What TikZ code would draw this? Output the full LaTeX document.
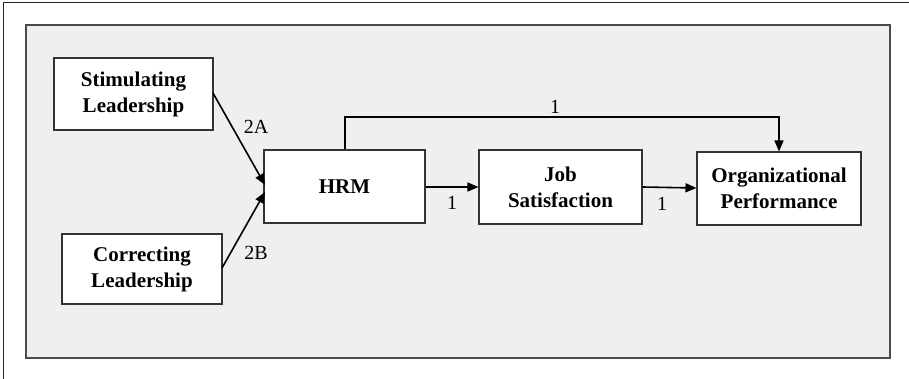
\documentclass[tikz,border=0pt]{standalone}
\usepackage{fontspec}
\setmainfont{Liberation Serif}
\usetikzlibrary{arrows.meta}
\definecolor{panel}{HTML}{EEF0EF}
\definecolor{panelline}{HTML}{4A4A4A}
\begin{document}
\begin{tikzpicture}[x=1pt,y=-1pt,
  box/.style={draw=black!80,line width=1.1pt,fill=white,font=\fontsize{21}{26}\selectfont\bfseries,align=center,inner sep=0pt},
  conn/.style={line width=1.6pt,-{Triangle[length=11pt,width=9pt]}},
  lab/.style={font=\fontsize{20}{22}\selectfont,inner sep=0pt}]
\useasboundingbox (0,0) rectangle (909,379);
\draw[line width=1pt,black!85] (3,379) -- (3,3) -- (909,3);
\draw[panelline,line width=1.1pt,fill=panel] (26,25) rectangle (890,358);
\node[box,minimum width=159pt,minimum height=72pt] (stim) at (133.5,94) {Stimulating\\Leadership};
\node[box,minimum width=160pt,minimum height=70pt] (corr) at (142,269) {Correcting\\Leadership};
\node[box,minimum width=161pt,minimum height=73pt] (hrm) at (344.5,186.5) {HRM};
\node[box,minimum width=163pt,minimum height=74pt] (job) at (560.5,187) {Job\\Satisfaction};
\node[box,minimum width=164pt,minimum height=73pt] (org) at (779,188.5) {Organizational\\Performance};
\coordinate (sa) at (213,93);
\coordinate (ha) at (265,185);
\coordinate (ca) at (222,268);
\coordinate (hb) at (265,192);
\draw[conn] (sa) -- (ha);
\draw[conn] (ca) -- (hb);
\draw[conn] (hrm.east |- 0,187) -- (job.west |- 0,187);
\draw[conn] (job.east |- 0,187) -- (org.west |- 0,188);
\coordinate (top1) at (345,117);
\coordinate (top2) at (779,117);
\draw[conn] (hrm.north -| top1) -- (top1) -- (top2) -- (org.north -| top2);
\node[lab] (l2a) at (256,127) {2A};
\node[lab] (l2b) at (256,253) {2B};
\node[lab] (l1a) at (452,203) {1};
\node[lab] (l1b) at (662,204) {1};
\node[lab] (l1c) at (555,107) {1};
\end{tikzpicture}
\end{document}
